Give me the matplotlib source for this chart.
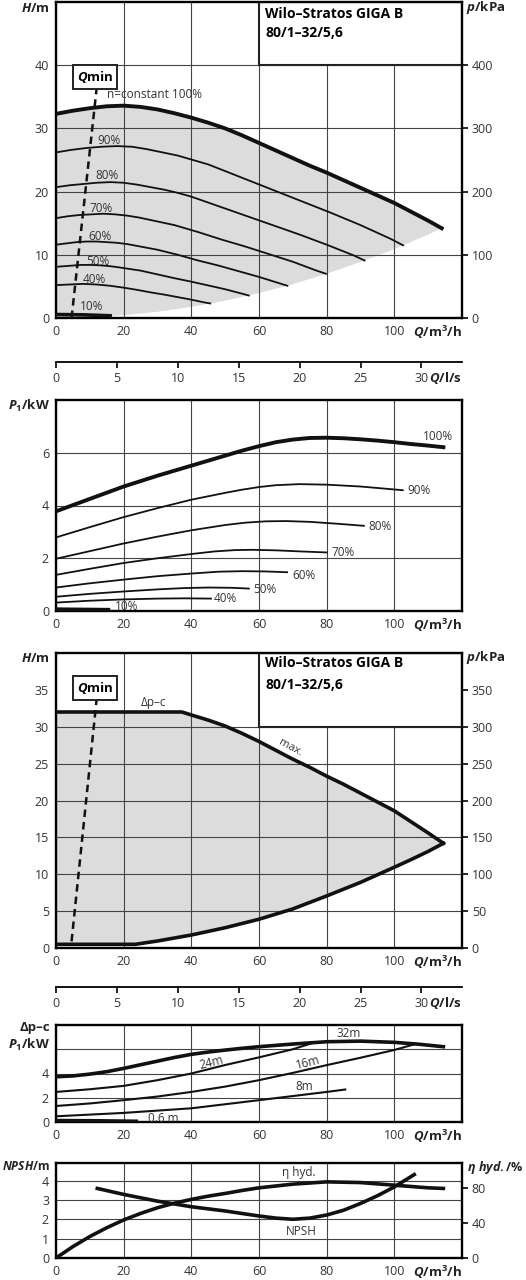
import numpy as np
import matplotlib
matplotlib.use("Agg")
import matplotlib.pyplot as plt
from matplotlib.patches import Rectangle

plt.rcParams['font.family'] = ['Open Sans', 'DejaVu Sans']
plt.rcParams['mathtext.fontset'] = 'custom'
plt.rcParams['mathtext.it'] = 'Open Sans:italic:bold'
plt.rcParams['mathtext.rm'] = 'Open Sans:bold'
plt.rcParams['mathtext.bf'] = 'Open Sans:bold'

# ---- chart 1: H(Q) at constant speeds ----
q100 = [0, 5, 10, 15, 20, 25, 30, 35, 40, 45, 50, 55, 60, 65, 70, 75, 80, 85, 90, 95, 100, 105, 110, 114]
h100 = [32.3, 32.8, 33.2, 33.5, 33.6, 33.4, 33.0, 32.4, 31.7, 30.9, 30.0, 28.9, 27.7, 26.5, 25.3,
        24.1, 23.0, 21.8, 20.6, 19.4, 18.2, 16.8, 15.4, 14.2]
q90 = [0, 4.5, 9, 13.5, 18, 22.5, 27, 31.5, 36, 40.5, 45, 54, 63, 72, 81, 90, 99, 102.6]
h90 = [26.2, 26.6, 26.9, 27.1, 27.2, 27.1, 26.7, 26.2, 25.7, 25.0, 24.3, 22.4, 20.5, 18.6, 16.7, 14.7, 12.5, 11.5]
q80 = [0, 4, 8, 12, 16, 20, 24, 28, 32, 36, 40, 48, 56, 64, 72, 80, 88, 91.2]
h80 = [20.7, 21.0, 21.2, 21.4, 21.5, 21.4, 21.1, 20.7, 20.3, 19.8, 19.2, 17.7, 16.2, 14.7, 13.2, 11.6, 9.9, 9.1]
q70 = [0, 3.5, 7, 10.5, 14, 17.5, 21, 24.5, 28, 31.5, 35, 42, 49, 56, 63, 70, 77, 79.8]
h70 = [15.8, 16.1, 16.3, 16.4, 16.5, 16.4, 16.2, 15.9, 15.5, 15.1, 14.7, 13.6, 12.4, 11.3, 10.1, 8.9, 7.5, 7.0]
q60 = [0, 3, 6, 9, 12, 15, 18, 21, 24, 27, 30, 36, 42, 48, 54, 60, 66, 68.4]
h60 = [11.6, 11.8, 12.0, 12.1, 12.1, 12.0, 11.9, 11.7, 11.4, 11.1, 10.8, 10.0, 9.1, 8.3, 7.4, 6.5, 5.5, 5.1]
q50 = [0, 2.5, 5, 7.5, 10, 12.5, 15, 17.5, 20, 22.5, 25, 30, 35, 40, 45, 50, 55, 57]
h50 = [8.1, 8.2, 8.3, 8.4, 8.4, 8.35, 8.25, 8.1, 7.9, 7.7, 7.5, 6.9, 6.3, 5.75, 5.15, 4.55, 3.85, 3.55]
q40 = [0, 2, 4, 6, 8, 10, 12, 14, 16, 18, 20, 24, 28, 32, 36, 40, 44, 45.6]
h40 = [5.2, 5.25, 5.3, 5.35, 5.4, 5.35, 5.3, 5.2, 5.1, 4.95, 4.8, 4.45, 4.05, 3.7, 3.3, 2.9, 2.45, 2.3]
q10 = [0, 8, 16]
h10 = [0.55, 0.5, 0.35]
q_lo = [0, 10, 20, 30, 40, 50, 60, 70, 80, 90, 100, 110, 114]
h_lo = [0, 0.11, 0.44, 0.98, 1.75, 2.73, 3.93, 5.35, 7.0, 8.85, 10.9, 13.2, 14.2]
qmin_q = [4.6, 12.0]
qmin_h1 = [0, 36.3]

# ---- chart 2: P1(Q) at constant speeds ----
pq100 = [0, 10, 20, 30, 40, 50, 55, 60, 65, 70, 75, 80, 85, 90, 95, 100, 105, 110, 114.5]
p100 = [3.78, 4.25, 4.72, 5.13, 5.51, 5.89, 6.08, 6.25, 6.40, 6.50, 6.56, 6.57, 6.55, 6.51, 6.46,
        6.40, 6.33, 6.27, 6.21]
pq90 = [0, 10, 20, 30, 40, 50, 55, 60, 65, 72, 80, 90, 102.5]
p90 = [2.79, 3.18, 3.56, 3.90, 4.22, 4.48, 4.60, 4.70, 4.77, 4.81, 4.79, 4.72, 4.58]
pq80 = [0, 10, 20, 30, 40, 50, 56, 62, 68, 75, 83, 91]
p80 = [1.98, 2.27, 2.56, 2.82, 3.06, 3.26, 3.35, 3.40, 3.41, 3.38, 3.31, 3.23]
pq70 = [0, 10, 20, 30, 40, 47, 53, 58, 65, 72, 80]
p70 = [1.37, 1.60, 1.82, 2.00, 2.16, 2.26, 2.31, 2.32, 2.30, 2.26, 2.22]
pq60 = [0, 10, 20, 30, 40, 48, 55, 62, 68.3]
p60 = [0.89, 1.05, 1.19, 1.32, 1.42, 1.49, 1.51, 1.50, 1.47]
pq50 = [0, 10, 20, 30, 38, 45, 52, 57]
p50 = [0.54, 0.65, 0.74, 0.82, 0.87, 0.89, 0.88, 0.85]
pq40 = [0, 10, 20, 30, 38, 45.8]
p40 = [0.32, 0.39, 0.44, 0.47, 0.48, 0.47]
pq10 = [0, 8, 15.5]
p10 = [0.07, 0.06, 0.05]
speed_labels = ['100%', '90%', '80%', '70%', '60%', '50%', '40%', '10%']

# ---- chart 3: dp-c range ----
q_max = [0, 37.2, 40, 45, 50, 55, 60, 65, 70, 75, 80, 85, 90, 95, 100, 105, 110, 114.5]
h_max = [32, 32, 31.6, 30.9, 30.1, 29.1, 28.0, 26.8, 25.6, 24.5, 23.3, 22.2, 21.0, 19.8, 18.6, 17.1, 15.6, 14.2]
q_min = [0, 23.4, 30, 40, 50, 60, 70, 80, 90, 100, 105, 110, 114.5]
h_min = [0.5, 0.5, 0.95, 1.76, 2.75, 3.9, 5.3, 7.06, 8.9, 10.95, 12.0, 13.1, 14.2]
qmin_h3 = [0.9, 33.7]

# ---- chart 4: P1 at dp-c setpoints ----
cq32 = [0, 5, 10, 15, 20, 25, 30, 35, 40, 45, 50, 55, 60, 70, 80, 90, 100, 107, 114.5]
c32 = [3.73, 3.80, 3.95, 4.15, 4.42, 4.72, 5.02, 5.32, 5.58, 5.77, 5.93, 6.08, 6.21, 6.43, 6.62,
       6.67, 6.57, 6.42, 6.21]
cq24 = [0, 10, 20, 30, 40, 50, 60, 70, 76.1]
c24 = [2.48, 2.70, 2.98, 3.45, 4.0, 4.7, 5.33, 6.0, 6.54]
cq16 = [0, 10, 20, 30, 40, 50, 60, 70, 80, 90, 100, 106.2]
c16 = [1.32, 1.53, 1.80, 2.10, 2.48, 2.92, 3.45, 4.05, 4.69, 5.3, 5.94, 6.43]
cq8 = [0, 20, 40, 60, 80, 85.5]
c8 = [0.47, 0.75, 1.13, 1.8, 2.48, 2.68]
cq06 = [0, 12, 23.7]
c06 = [0.12, 0.1, 0.06]

# ---- chart 5: NPSH and efficiency ----
q_eta = [0, 5, 10, 15, 20, 25, 30, 35, 40, 45, 50, 55, 60, 70, 80, 90, 100, 110, 114.5]
eta = [0, 13, 24.5, 34.5, 43.4, 50.8, 57.3, 62.5, 66.8, 70.5, 73.6, 77, 80, 84.2, 86.8, 86, 83, 80, 79.3]
q_npsh = [12.2, 20, 30, 40, 50, 60, 65, 70, 75, 80, 85, 90, 95, 100, 105.9]
npsh = [3.61, 3.30, 2.95, 2.66, 2.44, 2.18, 2.07, 2.01, 2.07, 2.23, 2.48, 2.83, 3.23, 3.69, 4.33]

qticks = [0, 20, 40, 60, 80, 100]
lsticks = [0, 5, 10, 15, 20, 25, 30]

W, H = 526, 1280
fig = plt.figure(figsize=(W / 100, H / 100), dpi=100)
TC = '#333333'
GRAY = '#dcdcdc'
K = '#111111'


def rect(top, bottom):
    return [56 / W, 1 - bottom / H, (462 - 56) / W, (bottom - top) / H]


def style(ax, ylim, yticks, ylabels=None):
    ax.set_xlim(0, 120)
    ax.set_ylim(*ylim)
    ax.set_xticks(qticks)
    ax.set_yticks(yticks)
    if ylabels is not None:
        ax.set_yticklabels(ylabels)
    ax.grid(True, color='#444444', lw=0.8)
    ax.set_axisbelow(True)
    for s in ax.spines.values():
        s.set_linewidth(1.7)
    ax.tick_params(length=0, pad=5, labelsize=9, labelcolor=TC)
    ax.annotate(r'$Q\mathrm{/m}^{3}\mathrm{/h}$', xy=(1, 0), xycoords='axes fraction',
                xytext=(0, -4), textcoords='offset points', ha='right', va='top',
                fontsize=9.5, color='#222222')


def right_axis(ax, ylim, ticks):
    r = ax.twinx()
    r.set_ylim(*ylim)
    r.set_yticks(ticks)
    r.tick_params(length=4, width=1.2, pad=3, labelsize=9, labelcolor=TC)
    for s in r.spines.values():
        s.set_visible(False)
    return r


def ls_axis(y):
    a = fig.add_axes([56 / W, 1 - y / H, (462 - 56) / W, 0.0001])
    a.set_xlim(0, 120 / 3.6)
    a.set_xticks(lsticks)
    a.set_yticks([])
    for k in ['left', 'right', 'top']:
        a.spines[k].set_visible(False)
    a.spines['bottom'].set_linewidth(1.3)
    a.patch.set_visible(False)
    a.tick_params(direction='out', length=4, width=1.2, pad=3, labelsize=9, labelcolor=TC)
    a.annotate(r'$Q\mathrm{/l/s}$', xy=(1, 0), xycoords='axes fraction',
               xytext=(0, -6), textcoords='offset points', ha='right', va='top',
               fontsize=9.5, color='#222222')


def label(x, y, s, ha='left', size=9.5):
    return fig.text(x / W, 1 - y / H, s, ha=ha, va='center', fontsize=size, color='#222222')


def qmin_box(ax, q, h):
    ax.text(q, h, r'$Q\mathrm{min}$', ha='center', va='center', fontsize=9.5, zorder=6,
            bbox=dict(boxstyle='square,pad=0.3', fc='white', ec='#222222', lw=1.4))


# chart 1
ax1 = fig.add_axes(rect(2, 318))
style(ax1, (0, 50), [0, 10, 20, 30, 40])
right_axis(ax1, (0, 500), [0, 100, 200, 300, 400])
ax1.fill(q100 + q_lo[::-1], h100 + h_lo[::-1], color=GRAY, lw=0, zorder=0.2)
ax1.add_patch(Rectangle((60, 40), 60, 10, fc='white', ec='#222222', lw=1.5, zorder=2))
ax1.text(61.8, 48.1, 'Wilo–Stratos GIGA B', fontsize=10, fontweight='bold', va='center', zorder=3)
ax1.text(61.8, 45.1, '80/1–32/5,6', fontsize=10, fontweight='bold', va='center', zorder=3)
ax1.plot(q100, h100, color=K, lw=2.8, zorder=4)
for qq, hh in [(q90, h90), (q80, h80), (q70, h70), (q60, h60), (q50, h50), (q40, h40)]:
    ax1.plot(qq, hh, color=K, lw=1.3, zorder=4)
ax1.plot(q10, h10, color=K, lw=2.6, zorder=4)
ax1.plot(qmin_q, qmin_h1, color=K, lw=1.8, ls=(0, (3, 2)), zorder=5)
qmin_box(ax1, 11.5, 38.2)
ax1.text(15, 35.3, 'n=constant 100%', fontsize=8.5, color=TC, va='center')
for s, (qq, hh) in zip(speed_labels[1:], [(12.1, 28.1), (11.5, 22.6), (10, 17.3), (9.5, 12.9),
                                        (8.8, 9.0), (7.9, 6.1), (7.1, 1.8)]):
    ax1.text(qq, hh, s, fontsize=8.5, color=TC, va='center')
label(50, 8, r'$H\mathrm{/m}$', ha='right')
label(466, 8, r'$p\mathrm{/kPa}$')
ls_axis(362)

# chart 2
ax2 = fig.add_axes(rect(400, 611))
style(ax2, (0, 8), [0, 2, 4, 6])
ax2.plot(pq100, p100, color=K, lw=2.8, zorder=4)
for qq, pp in [(pq90, p90), (pq80, p80), (pq70, p70), (pq60, p60), (pq50, p50), (pq40, p40)]:
    ax2.plot(qq, pp, color=K, lw=1.3, zorder=4)
ax2.plot(pq10, p10, color=K, lw=2.6, zorder=4)
for s, (qq, pp) in zip(speed_labels, [(108.5, 6.6), (104, 4.56), (92.4, 3.21), (81.3, 2.2),
                                     (69.8, 1.34), (58.4, 0.82), (46.7, 0.47), (17.5, 0.16)]):
    ax2.text(qq, pp, s, fontsize=8.5, color=TC, va='center')
label(50, 406, r'$P_{1}\mathrm{/kW}$', ha='right')

# chart 3
ax3 = fig.add_axes(rect(653, 948))
style(ax3, (0, 40), [0, 5, 10, 15, 20, 25, 30, 35])
ax3.get_ygridlines()[-1].set_visible(False)
right_axis(ax3, (0, 400), [0, 50, 100, 150, 200, 250, 300, 350])
ax3.fill(q_max + q_min[::-1], h_max + h_min[::-1], color=GRAY, lw=0, zorder=0.2)
ax3.add_patch(Rectangle((60, 30), 60, 10, fc='white', ec='#222222', lw=1.5, zorder=2))
ax3.text(61.8, 38.6, 'Wilo–Stratos GIGA B', fontsize=10, fontweight='bold', va='center', zorder=3)
ax3.text(61.8, 35.7, '80/1–32/5,6', fontsize=10, fontweight='bold', va='center', zorder=3)
ax3.plot(q_max, h_max, color=K, lw=2.6, zorder=4)
ax3.plot(q_min, h_min, color=K, lw=2.6, zorder=4)
ax3.plot(qmin_q, qmin_h3, color=K, lw=1.8, ls=(0, (3, 2)), zorder=5)
qmin_box(ax3, 11.6, 35.2)
ax3.text(28.7, 33.3, 'Δp–c', fontsize=8.5, color=TC, ha='center', va='center')
ax3.text(69.2, 27.2, 'max.', fontsize=8, color=TC, ha='center', va='center', rotation=-28)
label(50, 659, r'$H\mathrm{/m}$', ha='right')
label(466, 657, r'$p\mathrm{/kPa}$')
ls_axis(987)

# chart 4
ax4 = fig.add_axes(rect(1025, 1122))
style(ax4, (0, 8), [0, 2, 4, 6], ['0', '2', '4', ''])
ax4.plot(cq32, c32, color=K, lw=2.6, zorder=4)
for qq, pp in [(cq24, c24), (cq16, c16), (cq8, c8)]:
    ax4.plot(qq, pp, color=K, lw=1.5, zorder=4)
ax4.plot(cq06, c06, color=K, lw=2.6, zorder=4)
ax4.text(86.5, 7.3, '32m', fontsize=8.5, color=TC, ha='center', va='center')
ax4.text(46, 4.9, '24m', fontsize=8.5, color=TC, ha='center', va='center', rotation=14)
ax4.text(74.6, 4.9, '16m', fontsize=8.5, color=TC, ha='center', va='center', rotation=14)
ax4.text(73.4, 2.9, '8m', fontsize=8.5, color=TC, ha='center', va='center')
ax4.text(31.6, 0.3, '0.6 m', fontsize=8.5, color=TC, ha='center', va='center')
label(50, 1028, 'Δp–c', ha='right').set_fontweight('bold')
label(50, 1045, r'$P_{1}\mathrm{/kW}$', ha='right')

# chart 5
ax5 = fig.add_axes(rect(1163, 1258))
style(ax5, (0, 4.93), [0, 1, 2, 3, 4])
r5 = right_axis(ax5, (0, 108.3), [0, 40, 80])
ax5.plot(q_npsh, npsh, color=K, lw=2.6, zorder=4)
r5.plot(q_eta, eta, color=K, lw=2.6, zorder=4)
ax5.text(71.7, 4.43, 'η hyd.', fontsize=8.5, color=TC, ha='center', va='center')
ax5.text(72.6, 1.37, 'NPSH', fontsize=8.5, color=TC, ha='center', va='center')
label(50, 1167, r'$NPSH\mathrm{/m}$', ha='right', size=8.6)
label(467, 1167, r'$η\ hyd.\mathrm{/\%}$', size=9)

fig.savefig('out.png', dpi=100)
